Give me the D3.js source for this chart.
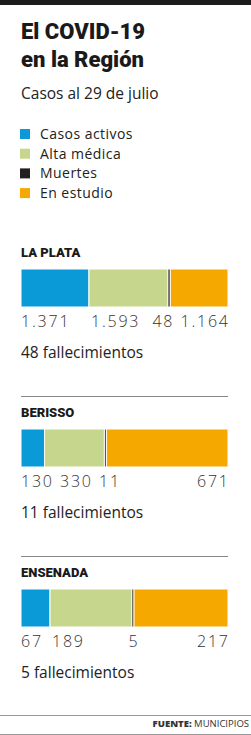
<!DOCTYPE html>
<meta charset="utf-8">
<script src="https://d3js.org/d3.v7.min.js"></script>
<style>
body { margin: 0; background: #fff; }
text { font-family: "Open Sans", "Liberation Sans", sans-serif; }
.head { font-family: Roboto, "Liberation Sans", sans-serif; font-weight: 900; }
</style>
<div id="chart"></div>
<script>
// data
var categories = ["Casos activos", "Alta médica", "Muertes", "En estudio"];
var colors = ["#0a9ad8", "#c6d68c", "#231f20", "#f5a800"];
var regions = ["LA PLATA", "BERISSO", "ENSENADA"];
var laPlata = [1371, 1593, 48, 1164];
var berisso = [130, 330, 11, 671];
var ensenada = [67, 189, 5, 217];
var values = [laPlata, berisso, ensenada];

var W = 251, H = 735;
var svg = d3.select("#chart").append("svg")
  .attr("width", W).attr("height", H);

var fmt = d3.formatLocale({decimal: ",", thousands: ".", grouping: [3]}).format(",d");
var color = d3.scaleOrdinal().domain(categories).range(colors);

// top band
svg.append("rect").attr("x", 0).attr("y", 0).attr("width", W).attr("height", 5).attr("fill", "#1c1c1e");

// title
svg.append("text").attr("class", "head").attr("x", 21).attr("y", 39).text("El COVID-19")
  .style("font-size", "22px").attr("fill", "#1a1a1a");
svg.append("text").attr("class", "head").attr("x", 21).attr("y", 67).text("en la Región")
  .style("font-size", "22px").attr("fill", "#1a1a1a");
svg.append("text").attr("x", 21).attr("y", 99).text("Casos al 29 de julio")
  .style("font-size", "15.5px").attr("fill", "#222");

// legend
var leg = svg.append("g");
leg.selectAll("rect").data(categories).enter().append("rect")
  .attr("x", 20).attr("y", function(d, i) { return 129 + i * 19.7; })
  .attr("width", 10).attr("height", 10)
  .attr("fill", function(d) { return color(d); });
leg.selectAll("text").data(categories).enter().append("text")
  .attr("x", 40).attr("y", function(d, i) { return 139 + i * 19.7; })
  .text(function(d) { return d; })
  .style("font-size", "14px").style("letter-spacing", "0.45px").attr("fill", "#222");

var x = d3.scaleLinear().range([21, 228]);

regions.forEach(function(name, r) {
  var y0 = 257 + r * 160;
  var vals = values[r];
  var total = d3.sum(vals);
  x.domain([0, total]);
  var g = svg.append("g");

  if (r > 0) {
    g.append("line").attr("x1", 21).attr("x2", 228)
      .attr("y1", y0 - 20.5).attr("y2", y0 - 20.5)
      .attr("stroke", "#888").attr("stroke-width", 1);
  }
  g.append("text").attr("class", "head").attr("x", 21).attr("y", y0).text(name)
    .style("font-size", "13px").attr("fill", "#1a1a1a");

  var segs = [];
  var acc = 0;
  vals.forEach(function(v, i) {
    segs.push({cat: categories[i], v: v, x0: x(acc), x1: x(acc + v)});
    acc += v;
  });

  g.selectAll("rect.seg").data(segs).enter().append("rect")
    .attr("class", "seg")
    .attr("x", function(d) { return d.x0; })
    .attr("y", y0 + 12)
    .attr("width", function(d) { return Math.max(1, d.x1 - d.x0); })
    .attr("height", 38)
    .attr("fill", function(d) { return color(d.cat); })
    .attr("stroke", "#fff").attr("stroke-width", 1);

  // value labels
  var labels = g.selectAll("text.val").data(segs).enter().append("text")
    .attr("class", "val")
    .attr("y", y0 + 70)
    .text(function(d) { return fmt(d.v); })
    .style("font-size", "16px").style("letter-spacing", "1.8px")
    .style("font-weight", 300).attr("fill", "#333");
  var widths = [];
  labels.each(function() { widths.push(this.getComputedTextLength() - 1.8); });
  var gap = 8;
  var pos = [];
  pos[0] = segs[0].x0;
  pos[3] = segs[3].x1 - widths[3];
  pos[2] = (segs[2].x0 + segs[2].x1) / 2 - widths[2] / 2;
  if (pos[2] + widths[2] > pos[3] - gap) pos[2] = pos[3] - gap - widths[2];
  pos[1] = Math.max(segs[1].x0 + 2, pos[0] + widths[0] + gap);
  if (pos[2] < pos[1] + widths[1] + gap) pos[2] = pos[1] + widths[1] + gap;
  labels.attr("x", function(d, i) { return pos[i]; });

  g.append("text").attr("x", 21).attr("y", y0 + 101)
    .text(vals[2] + " fallecimientos")
    .style("font-size", "15.5px").attr("fill", "#222");
});

// footer
svg.append("line").attr("x1", 0).attr("x2", W).attr("y1", 715.5).attr("y2", 715.5)
  .attr("stroke", "#999").attr("stroke-width", 1);
svg.append("line").attr("x1", 0).attr("x2", W).attr("y1", 734.5).attr("y2", 734.5)
  .attr("stroke", "#999").attr("stroke-width", 1);
var src = svg.append("text").attr("x", 249).attr("y", 727).attr("text-anchor", "end")
  .style("font-size", "9.5px").attr("fill", "#333");
src.append("tspan").style("font-weight", 800).text("FUENTE:");
src.append("tspan").text(" MUNICIPIOS");
</script>
